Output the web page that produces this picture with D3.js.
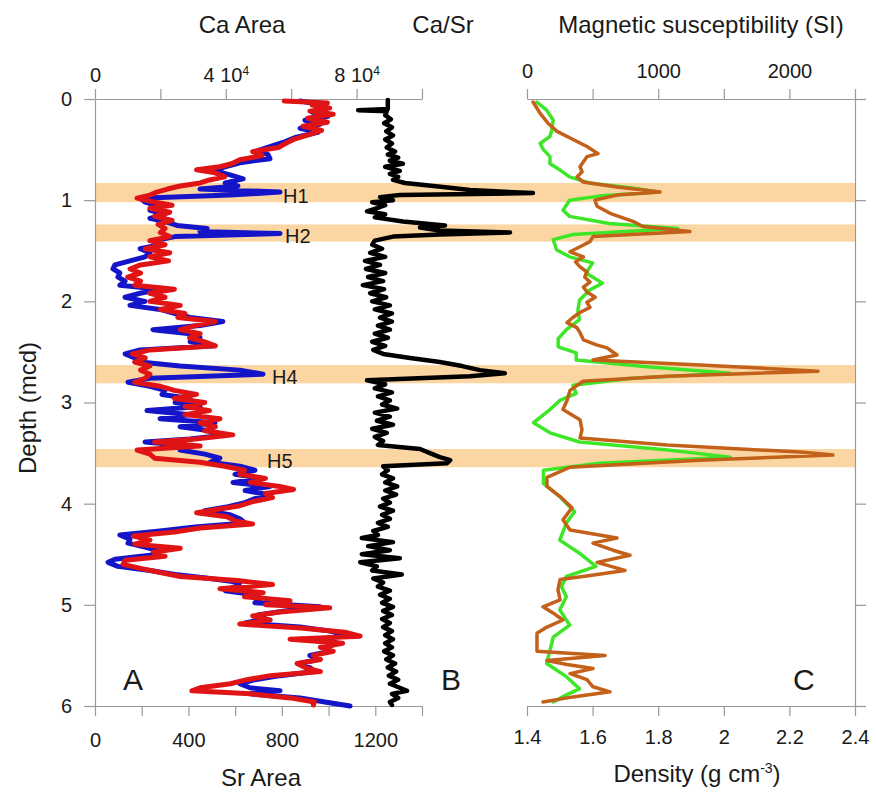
<!DOCTYPE html>
<html>
<head>
<meta charset="utf-8">
<script src="https://cdn.jsdelivr.net/npm/d3@7"></script>
<style>
  body { margin: 0; background: #fff; }
  text { font-family: "Liberation Sans", Arial, sans-serif; fill: #1a1a1a; }
</style>
</head>
<body>
<script>
// depth ticks and axis tick values
const depthTicks = [0, 1, 2, 3, 4, 5, 6]
const caTicks = [0, 20000, 40000, 60000, 80000, 100000]
const srTicks = [0, 200, 400, 600, 800, 1000, 1200, 1400]
const magTicks = [0, 500, 1000, 1500, 2000, 2500]
const densTicks = [1.4, 1.6, 1.8, 2.0, 2.2, 2.4]

// Heinrich layers (depth, m)
const bandNames = ['H1', 'H2', 'H4', 'H5']
const bandTop = [0.83, 1.24, 2.63, 3.46]
const bandBottom = [1.02, 1.41, 2.81, 3.64]

// [depth, Sr area]
const srArea = [
  [0.02, 810], [0.04, 995], [0.06, 930], [0.09, 1005], [0.12, 920], [0.15, 1020], [0.19, 910], [0.23, 995],
  [0.27, 890], [0.31, 970], [0.35, 920], [0.40, 850], [0.44, 815], [0.48, 785], [0.52, 675], [0.56, 715],
  [0.60, 620], [0.64, 585], [0.67, 535], [0.70, 435], [0.73, 515], [0.77, 555], [0.80, 490], [0.83, 450],
  [0.86, 365], [0.89, 310], [0.92, 265], [0.95, 235], [0.98, 180], [1.01, 235], [1.05, 330], [1.08, 235],
  [1.12, 320], [1.16, 255], [1.20, 330], [1.24, 270], [1.28, 300], [1.32, 280], [1.36, 320], [1.40, 235],
  [1.44, 300], [1.48, 215], [1.52, 320], [1.56, 235], [1.60, 315], [1.64, 195], [1.68, 150], [1.72, 195],
  [1.76, 140], [1.80, 195], [1.84, 170], [1.88, 340], [1.92, 235], [1.96, 300], [2.00, 235], [2.04, 365],
  [2.08, 280], [2.12, 385], [2.16, 355], [2.20, 515], [2.24, 430], [2.28, 365], [2.32, 450], [2.36, 405],
  [2.40, 470], [2.44, 515], [2.48, 235], [2.52, 160], [2.56, 215], [2.60, 170], [2.64, 235], [2.68, 195],
  [2.72, 235], [2.76, 215], [2.80, 170], [2.84, 280], [2.88, 340], [2.92, 435], [2.96, 340], [3.00, 470],
  [3.04, 385], [3.08, 490], [3.12, 385], [3.16, 535], [3.20, 450], [3.24, 515], [3.28, 470], [3.32, 590],
  [3.36, 430], [3.39, 255], [3.43, 450], [3.47, 180], [3.51, 235], [3.55, 255], [3.59, 450], [3.63, 555],
  [3.67, 640], [3.71, 620], [3.75, 730], [3.79, 665], [3.83, 790], [3.86, 850], [3.90, 730], [3.94, 760],
  [3.98, 675], [4.02, 620], [4.06, 515], [4.09, 435], [4.13, 565], [4.17, 600], [4.20, 675], [4.24, 450],
  [4.28, 340], [4.32, 165], [4.36, 235], [4.40, 170], [4.44, 365], [4.48, 250], [4.52, 300], [4.56, 130],
  [4.60, 120], [4.64, 195], [4.68, 280], [4.72, 365], [4.76, 610], [4.80, 760], [4.84, 535], [4.88, 720],
  [4.92, 640], [4.96, 835], [5.00, 730], [5.03, 1005], [5.07, 790], [5.11, 675], [5.15, 750], [5.19, 620],
  [5.23, 880], [5.27, 1070], [5.31, 1135], [5.34, 835], [5.38, 1060], [5.42, 965], [5.46, 1020], [5.50, 935],
  [5.54, 965], [5.58, 865], [5.62, 900], [5.66, 965], [5.70, 750], [5.74, 650], [5.78, 580], [5.82, 450],
  [5.85, 415], [5.88, 665], [5.92, 835], [5.96, 940], [5.99, 935]
]

// [depth, Ca area]
const caArea = [
  [0.02, 62700], [0.05, 68200], [0.09, 70300], [0.13, 66400], [0.17, 71300], [0.21, 64200], [0.25, 68800],
  [0.29, 62700], [0.33, 68200], [0.38, 61200], [0.43, 57500], [0.47, 53500], [0.51, 49800], [0.55, 52900],
  [0.59, 53500], [0.63, 44300], [0.67, 39800], [0.71, 36700], [0.75, 41300], [0.79, 45300], [0.83, 39800],
  [0.86, 43700], [0.89, 32100], [0.92, 56600], [0.95, 41300], [0.98, 13800], [1.02, 15300], [1.06, 19900],
  [1.10, 16800], [1.14, 21400], [1.18, 16800], [1.22, 22300], [1.25, 25100], [1.28, 34300], [1.31, 32100],
  [1.33, 56600], [1.36, 24500], [1.40, 18300], [1.44, 19900], [1.48, 13800], [1.52, 16800], [1.56, 15300],
  [1.60, 10700], [1.64, 6100], [1.68, 5500], [1.72, 7600], [1.76, 7000], [1.80, 9200], [1.84, 7600],
  [1.88, 19900], [1.92, 13800], [1.96, 9200], [2.00, 15300], [2.04, 10700], [2.08, 19900], [2.12, 24500],
  [2.16, 29100], [2.20, 39100], [2.24, 32100], [2.28, 17700], [2.32, 29100], [2.36, 32100], [2.40, 29100],
  [2.44, 36700], [2.48, 13800], [2.52, 9200], [2.56, 12200], [2.60, 13800], [2.64, 26000], [2.68, 44300],
  [2.72, 51400], [2.76, 16800], [2.80, 10100], [2.84, 16800], [2.88, 21400], [2.92, 20500], [2.96, 29100],
  [3.00, 24500], [3.04, 32100], [3.08, 15900], [3.12, 29100], [3.16, 19900], [3.20, 36700], [3.24, 26000],
  [3.28, 35200], [3.32, 39800], [3.36, 29100], [3.39, 15300], [3.43, 29100], [3.47, 26000], [3.51, 33600],
  [3.55, 38200], [3.59, 35200], [3.63, 44300], [3.67, 48900], [3.71, 42800], [3.75, 51100], [3.79, 42200],
  [3.83, 53500], [3.87, 45900], [3.91, 52900], [3.95, 48900], [3.99, 45900], [4.03, 40700], [4.07, 33600],
  [4.11, 41300], [4.15, 44300], [4.19, 45900], [4.23, 30600], [4.27, 19900], [4.31, 7600], [4.35, 10700],
  [4.39, 10100], [4.43, 15300], [4.47, 19900], [4.51, 16800], [4.55, 6100], [4.58, 4000], [4.62, 7000],
  [4.66, 16800], [4.70, 24500], [4.74, 35200], [4.78, 44300], [4.82, 42800], [4.86, 39800], [4.90, 48900],
  [4.94, 50500], [4.98, 48900], [5.02, 68800], [5.06, 58100], [5.10, 49800], [5.14, 52000], [5.18, 45900],
  [5.22, 62700], [5.26, 71900], [5.30, 76500], [5.34, 68800], [5.38, 74300], [5.42, 70300], [5.46, 71900],
  [5.50, 65700], [5.54, 68200], [5.58, 62700], [5.62, 65700], [5.66, 67300], [5.70, 56600], [5.74, 48900],
  [5.78, 44300], [5.82, 47400], [5.85, 56600], [5.88, 47400], [5.92, 62700], [5.96, 70300], [6.00, 78000]
]

// [depth, Ca/Sr]
const caSr = [
  [0.01, 65], [0.10, 65], [0.11, 8], [0.12, 63], [0.16, 60], [0.20, 71], [0.24, 58], [0.28, 73], [0.32, 62],
  [0.36, 75], [0.40, 60], [0.44, 73], [0.48, 63], [0.52, 79], [0.55, 65], [0.58, 85], [0.61, 69], [0.64, 94],
  [0.67, 60], [0.71, 88], [0.74, 69], [0.77, 85], [0.80, 75], [0.83, 98], [0.87, 171], [0.90, 223], [0.93, 344],
  [0.95, 88], [0.97, 50], [1.00, 75], [1.02, 35], [1.05, 60], [1.08, 44], [1.11, 25], [1.14, 60], [1.17, 40],
  [1.21, 94], [1.25, 175], [1.27, 127], [1.30, 165], [1.32, 300], [1.34, 165], [1.36, 75], [1.40, 40],
  [1.44, 35], [1.48, 54], [1.52, 31], [1.56, 60], [1.60, 21], [1.64, 50], [1.68, 23], [1.72, 60], [1.76, 27],
  [1.80, 56], [1.84, 17], [1.88, 58], [1.92, 31], [1.96, 62], [2.00, 35], [2.04, 69], [2.08, 40], [2.12, 73],
  [2.16, 50], [2.20, 73], [2.24, 46], [2.28, 69], [2.32, 40], [2.36, 65], [2.40, 35], [2.44, 60], [2.48, 37],
  [2.52, 56], [2.56, 108], [2.60, 165], [2.64, 208], [2.68, 242], [2.71, 290], [2.74, 223], [2.78, 25],
  [2.82, 60], [2.86, 40], [2.90, 73], [2.94, 46], [2.98, 69], [3.02, 54], [3.06, 83], [3.10, 40], [3.14, 69],
  [3.18, 44], [3.22, 75], [3.26, 35], [3.30, 63], [3.34, 40], [3.38, 56], [3.42, 46], [3.46, 127], [3.50, 146],
  [3.54, 165], [3.57, 185], [3.60, 179], [3.63, 56], [3.67, 65], [3.71, 54], [3.75, 75], [3.79, 60], [3.83, 83],
  [3.87, 60], [3.91, 81], [3.95, 56], [3.99, 69], [4.03, 50], [4.07, 75], [4.11, 54], [4.15, 69], [4.19, 46],
  [4.23, 65], [4.27, 37], [4.31, 46], [4.34, 15], [4.38, 75], [4.42, 27], [4.46, 69], [4.50, 15], [4.54, 88],
  [4.58, 12], [4.62, 44], [4.66, 35], [4.70, 92], [4.74, 37], [4.78, 56], [4.82, 46], [4.86, 69], [4.90, 50],
  [4.94, 69], [4.98, 54], [5.02, 75], [5.06, 56], [5.10, 73], [5.14, 54], [5.18, 69], [5.22, 56], [5.26, 73],
  [5.30, 60], [5.34, 75], [5.38, 60], [5.42, 73], [5.46, 58], [5.50, 75], [5.54, 62], [5.58, 79], [5.62, 65],
  [5.66, 81], [5.70, 67], [5.74, 85], [5.78, 69], [5.82, 88], [5.85, 102], [5.88, 73], [5.92, 85], [5.96, 69],
  [5.99, 73]
]

// [depth, magnetic susceptibility]
const magSus = [
  [0.03, 46], [0.14, 99], [0.24, 160], [0.32, 229], [0.40, 351], [0.47, 457], [0.54, 541], [0.57, 457],
  [0.62, 430], [0.67, 404], [0.72, 420], [0.77, 381], [0.82, 427], [0.87, 686], [0.92, 1014], [0.95, 686],
  [1.00, 518], [1.06, 534], [1.13, 633], [1.21, 808], [1.26, 884], [1.31, 1242], [1.36, 503], [1.41, 480],
  [1.46, 404], [1.51, 328], [1.56, 430], [1.61, 370], [1.66, 404], [1.71, 457], [1.76, 440], [1.81, 480],
  [1.86, 430], [1.91, 460], [1.96, 520], [2.01, 457], [2.06, 480], [2.11, 404], [2.16, 350], [2.21, 305],
  [2.26, 380], [2.31, 404], [2.38, 430], [2.43, 530], [2.46, 610], [2.53, 686], [2.58, 503], [2.63, 1319],
  [2.69, 2218], [2.74, 1067], [2.79, 427], [2.88, 328], [2.98, 305], [3.07, 274], [3.17, 404], [3.27, 419],
  [3.35, 404], [3.42, 1067], [3.49, 2081], [3.52, 2332], [3.57, 1319], [3.64, 328], [3.74, 152], [3.83, 152],
  [3.93, 252], [4.04, 343], [4.16, 274], [4.26, 328], [4.34, 686], [4.39, 503], [4.46, 655], [4.51, 785],
  [4.58, 534], [4.66, 747], [4.72, 427], [4.75, 252], [4.85, 236], [4.95, 252], [5.02, 122], [5.08, 198],
  [5.15, 274], [5.22, 152], [5.28, 76], [5.38, 76], [5.46, 76], [5.50, 595], [5.55, 152], [5.59, 305],
  [5.63, 503], [5.68, 328], [5.74, 457], [5.81, 503], [5.86, 633], [5.91, 351], [5.96, 122]
]

// [depth, density]
const density = [
  [0.03, 1.43], [0.11, 1.46], [0.21, 1.48], [0.31, 1.475], [0.37, 1.47], [0.44, 1.44], [0.50, 1.45],
  [0.57, 1.47], [0.64, 1.47], [0.70, 1.50], [0.77, 1.53], [0.83, 1.59], [0.88, 1.72], [0.92, 1.80],
  [0.96, 1.62], [1.00, 1.53], [1.10, 1.51], [1.16, 1.53], [1.23, 1.65], [1.28, 1.86], [1.34, 1.54],
  [1.39, 1.48], [1.49, 1.49], [1.56, 1.53], [1.62, 1.60], [1.72, 1.58], [1.82, 1.63], [1.89, 1.59],
  [1.99, 1.56], [2.09, 1.555], [2.18, 1.56], [2.28, 1.52], [2.37, 1.495], [2.45, 1.495], [2.51, 1.55],
  [2.58, 1.55], [2.65, 1.775], [2.71, 2.02], [2.76, 1.72], [2.83, 1.54], [2.91, 1.55], [2.98, 1.50],
  [3.07, 1.47], [3.20, 1.42], [3.30, 1.47], [3.39, 1.56], [3.47, 1.83], [3.54, 2.02], [3.60, 1.62],
  [3.67, 1.45], [3.80, 1.45], [3.93, 1.50], [4.08, 1.545], [4.19, 1.52], [4.36, 1.50], [4.49, 1.56],
  [4.62, 1.61], [4.72, 1.52], [4.82, 1.505], [4.92, 1.52], [5.05, 1.50], [5.20, 1.53], [5.32, 1.48],
  [5.45, 1.47], [5.58, 1.46], [5.71, 1.52], [5.83, 1.56], [5.89, 1.52], [5.96, 1.48]
]

let width = 876
let height = 795
let svg
let yScale, caScale, srScale, ratioScale, magScale, densScale

function updateScale () {
  yScale = d3.scaleLinear().domain([0, 6]).range([99, 706])
  caScale = d3.scaleLinear().domain([0, 100000]).range([95, 422])
  srScale = d3.scaleLinear().domain([0, 1400]).range([95, 422])
  ratioScale = d3.scaleLinear().domain([0, 200]).range([354, 458])
  magScale = d3.scaleLinear().domain([0, 2500]).range([527, 855])
  densScale = d3.scaleLinear().domain([1.4, 2.4]).range([527, 855])
}

function styleAxis (g) {
  g.select('.domain').attr('stroke', '#999').attr('stroke-width', 1.2)
  g.selectAll('.tick line').attr('stroke', '#999').attr('stroke-width', 1.2)
  g.selectAll('.tick text')
    .attr('font-family', '"Liberation Sans", Arial, sans-serif')
    .attr('font-size', 20)
    .attr('fill', '#1a1a1a')
}

function drawProfile (data, xScale, color, lw) {
  const line = d3.line()
    .x(d => xScale(d[1]))
    .y(d => yScale(d[0]))
  svg.append('path')
    .datum(data)
    .attr('d', line)
    .attr('fill', 'none')
    .attr('stroke', color)
    .attr('stroke-width', lw)
    .attr('stroke-linejoin', 'round')
    .attr('stroke-linecap', 'round')
}

function init () {
  updateScale()
  svg = d3.select('body')
    .append('svg')
    .attr('width', width)
    .attr('height', height)

  // Heinrich bands
  svg.selectAll('rect.band')
    .data(bandNames)
    .enter()
    .append('rect')
    .attr('class', 'band')
    .attr('x', caScale(0))
    .attr('width', magScale(2500) - caScale(0))
    .attr('y', (d, i) => yScale(bandTop[i]))
    .attr('height', (d, i) => yScale(bandBottom[i]) - yScale(bandTop[i]))
    .attr('fill', '#fcd6a2')

  // axes
  svg.append('g')
    .attr('transform', 'translate(' + caScale(0) + ',0)')
    .call(d3.axisLeft(yScale).tickValues(depthTicks).tickSize(11).tickSizeOuter(0).tickPadding(12)
      .tickFormat(d3.format('d')))
    .call(styleAxis)

  svg.append('g')
    .attr('transform', 'translate(0,' + yScale(0) + ')')
    .call(d3.axisTop(caScale).tickValues(caTicks).tickSize(10).tickSizeOuter(0).tickPadding(7)
      .tickFormat(d => (d % 40000 === 0 ? (d === 0 ? '0' : d / 10000 + ' 10') : '')))
    .call(styleAxis)
    .selectAll('.tick text')
    .filter(d => d > 0 && d % 40000 === 0)
    .append('tspan')
    .attr('dy', '-0.55em')
    .attr('font-size', 12)
    .text('4')

  svg.append('g')
    .attr('transform', 'translate(0,' + yScale(6) + ')')
    .call(d3.axisBottom(srScale).tickValues(srTicks).tickSize(10).tickSizeOuter(0).tickPadding(17)
      .tickFormat(d => (d % 400 === 0 ? d : '')))
    .call(styleAxis)

  svg.append('g')
    .attr('transform', 'translate(0,' + yScale(0) + ')')
    .call(d3.axisTop(magScale).tickValues(magTicks).tickSize(10).tickSizeOuter(0).tickPadding(11)
      .tickFormat(d => (d % 1000 === 0 ? d : '')))
    .call(styleAxis)

  svg.append('g')
    .attr('transform', 'translate(0,' + yScale(6) + ')')
    .call(d3.axisBottom(densScale).tickValues(densTicks).tickSize(10).tickSizeOuter(0).tickPadding(14)
      .tickFormat(d3.format('~g')))
    .call(styleAxis)

  svg.append('g')
    .attr('transform', 'translate(' + magScale(2500) + ',0)')
    .call(d3.axisRight(yScale).tickValues(depthTicks).tickSize(11).tickSizeOuter(0).tickFormat(''))
    .call(styleAxis)

  // profiles
  drawProfile(caArea, caScale, '#1414c8', 5)
  drawProfile(srArea, srScale, '#e01414', 5)
  drawProfile(caSr, ratioScale, '#000', 4.5)
  drawProfile(density, densScale, '#3ee628', 3.5)
  drawProfile(magSus, magScale, '#c3601a', 3.5)

  // band labels
  const labelX = [283, 285, 272, 267]
  svg.selectAll('text.hlab')
    .data(bandNames)
    .enter()
    .append('text')
    .attr('class', 'hlab')
    .attr('x', (d, i) => labelX[i])
    .attr('y', (d, i) => yScale(bandBottom[i]) + 1)
    .attr('font-size', 20)
    .text(d => d)

  // titles
  const titles = [
    { t: 'Ca Area', x: 242, y: 33 },
    { t: 'Ca/Sr', x: 443, y: 33 },
    { t: 'Magnetic susceptibility (SI)', x: 701, y: 33 },
    { t: 'Sr Area', x: 261, y: 786 }
  ]
  svg.selectAll('text.title')
    .data(titles)
    .enter()
    .append('text')
    .attr('class', 'title')
    .attr('x', d => d.x)
    .attr('y', d => d.y)
    .attr('font-size', 24)
    .attr('text-anchor', 'middle')
    .text(d => d.t)

  const dens = svg.append('text')
    .attr('x', 697)
    .attr('y', 782)
    .attr('font-size', 24)
    .attr('text-anchor', 'middle')
  dens.append('tspan').text('Density (g cm')
  dens.append('tspan').attr('dy', -9).attr('font-size', 14).text('-3')
  dens.append('tspan').attr('dy', 9).text(')')

  svg.append('text')
    .attr('transform', 'translate(36,408) rotate(-90)')
    .attr('font-size', 24)
    .attr('text-anchor', 'middle')
    .text('Depth (mcd)')

  // panel letters
  const letters = [['A', 123], ['B', 441], ['C', 793]]
  svg.selectAll('text.letter')
    .data(letters)
    .enter()
    .append('text')
    .attr('class', 'letter')
    .attr('x', d => d[1])
    .attr('y', 690)
    .attr('font-size', 30)
    .text(d => d[0])
}

init()
</script>
</body>
</html>
